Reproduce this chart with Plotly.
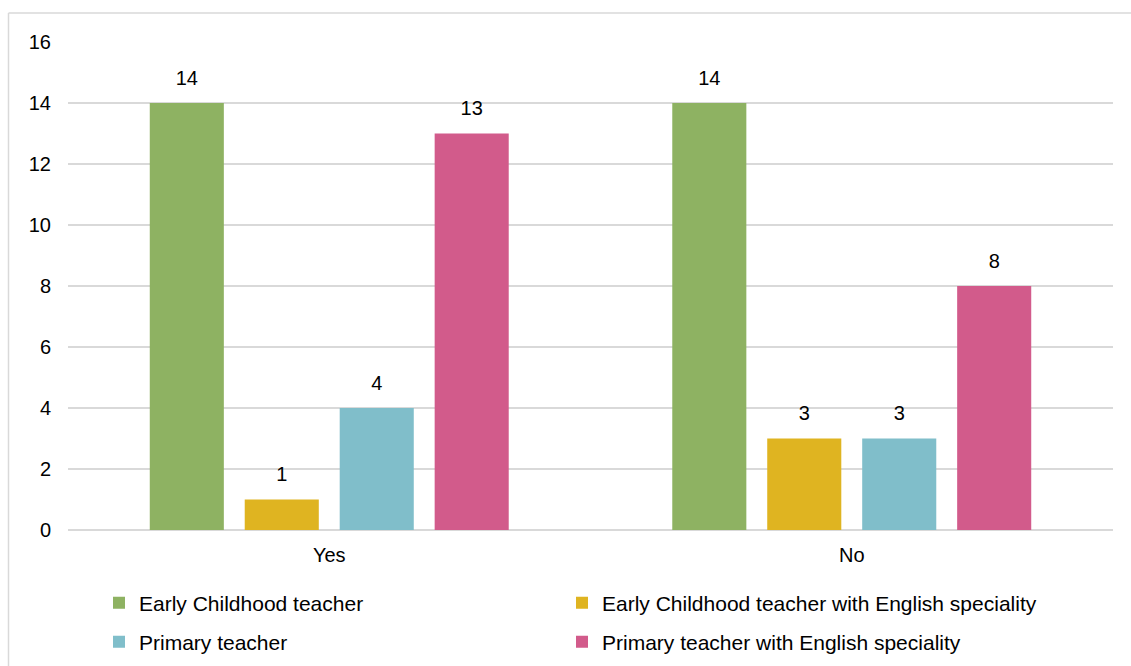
import plotly.graph_objects as go

categories = ["Yes", "No"]
series_names = [
    "Early Childhood teacher",
    "Early Childhood teacher with English speciality",
    "Primary teacher",
    "Primary teacher with English speciality",
]
early_childhood = [14, 14]
early_childhood_english = [1, 3]
primary = [4, 3]
primary_english = [13, 8]
y_ticks = [0, 2, 4, 6, 8, 10, 12, 14, 16]

colors = ["#8EB262", "#DFB421", "#80BECA", "#D25B8B"]
values = [early_childhood, early_childhood_english, primary, primary_english]

W, H = 1131, 666
ML, MR, MT, MB = 68, 18, 42, 136
PW, PH = W - ML - MR, H - MT - MB
BARGAP = 0.273

FONT = "Liberation Sans, Arial, sans-serif"

# legend cells: (left px, row centre px) in a 2x2 grid
legend_cells = [(99, 603), (562, 603), (99, 642), (562, 642)]
legend_ids = ["legend", "legend2", "legend3", "legend4"]

fig = go.Figure()
for name, vals, col, lg in zip(series_names, values, colors, legend_ids):
    fig.add_trace(go.Bar(
        name=name,
        x=categories,
        y=vals,
        marker=dict(color=col, line=dict(width=0)),
        legend=lg,
    ))

# value labels, grouped the same way as the bars
for name, vals in zip(series_names, values):
    fig.add_trace(go.Scatter(
        name=name,
        x=categories,
        y=vals,
        mode="markers+text",
        marker=dict(size=20, opacity=0),
        text=[str(v) for v in vals],
        textposition="top center",
        textfont=dict(family=FONT, size=20, color="#000000"),
        cliponaxis=False,
        showlegend=False,
        hoverinfo="skip",
    ))


def px_x(p):
    return (p - ML) / PW


def px_y(p):
    return (H - MB - p) / PH


# chart frame (top and left edges)
frame = dict(color="#D9D9D9", width=1.5)
fig.add_shape(type="line", xref="paper", yref="paper",
              x0=px_x(8.5), x1=px_x(W), y0=px_y(13), y1=px_y(13), line=frame)
fig.add_shape(type="line", xref="paper", yref="paper",
              x0=px_x(8.5), x1=px_x(8.5), y0=px_y(13), y1=px_y(H), line=frame)

legends = {}
for lg, (lx, ly) in zip(legend_ids, legend_cells):
    legends[lg] = dict(
        xref="container",
        yref="container",
        x=lx / W,
        y=(H - ly) / H,
        xanchor="left",
        yanchor="middle",
        font=dict(family=FONT, size=21, color="#000000"),
        bgcolor="rgba(0,0,0,0)",
    )

fig.update_layout(
    width=W,
    height=H,
    margin=dict(l=ML, r=MR, t=MT, b=MB, pad=0, autoexpand=False),
    paper_bgcolor="white",
    plot_bgcolor="white",
    barmode="group",
    bargap=BARGAP,
    bargroupgap=0.22,
    scattermode="group",
    scattergap=BARGAP,
    font=dict(family=FONT, size=20, color="#000000"),
    xaxis=dict(
        showgrid=False,
        showline=False,
        ticks="",
        automargin=False,
        ticklabelstandoff=11,
        tickfont=dict(family=FONT, size=20, color="#000000"),
    ),
    yaxis=dict(
        range=[0, 16],
        tickvals=y_ticks,
        showgrid=True,
        gridcolor="#D9D9D9",
        gridwidth=1.5,
        zeroline=True,
        zerolinecolor="#D9D9D9",
        zerolinewidth=1.5,
        showline=False,
        ticks="",
        automargin=False,
        ticklabelstandoff=16,
        tickfont=dict(family=FONT, size=20, color="#000000"),
    ),
    **legends,
)

fig.write_html("out.html")
